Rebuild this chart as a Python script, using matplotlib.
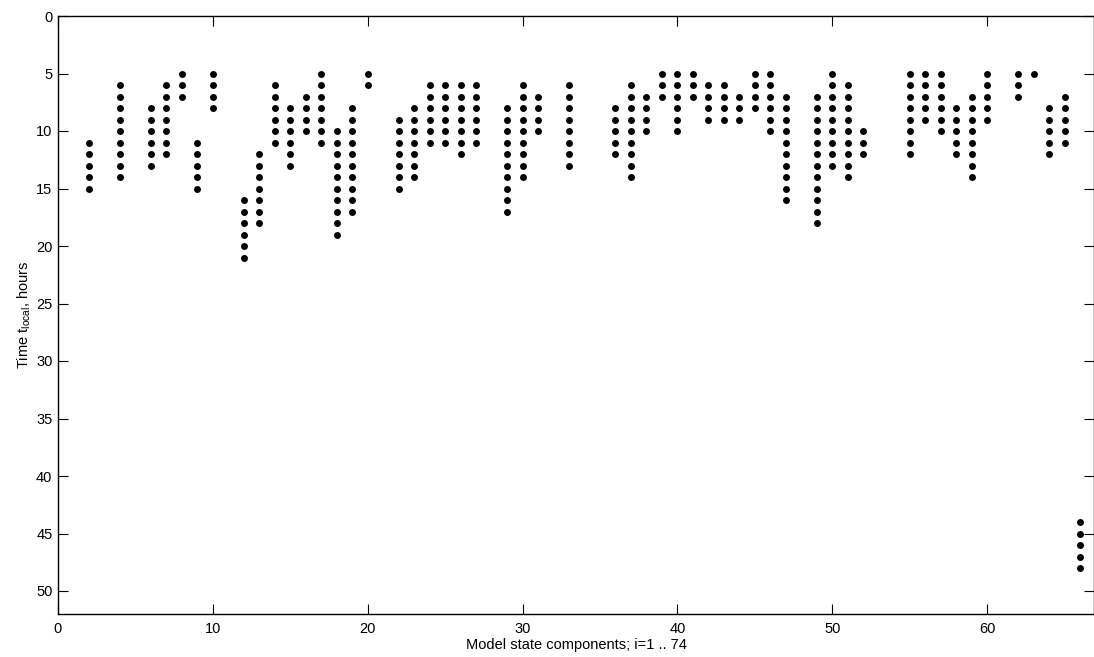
import numpy as np
import matplotlib.pyplot as plt

plt.rcParams['font.family'] = ['Liberation Sans', 'DejaVu Sans']

# state component index and first/last hour at which it is observed
components = [2, 4, 6, 7, 8, 9, 10, 12, 13, 14, 15, 16, 17, 18, 19, 20,
              22, 23, 24, 25, 26, 27, 29, 30, 31, 33, 36, 37, 38, 39, 40,
              41, 42, 43, 44, 45, 46, 47, 49, 50, 51, 52, 55, 56, 57, 58,
              59, 60, 62, 63, 64, 65, 66]
t_first = [11, 6, 8, 6, 5, 11, 5, 16, 12, 6, 8, 7, 5, 10, 8, 5,
           9, 8, 6, 6, 6, 6, 8, 6, 7, 6, 8, 6, 7, 5, 5,
           5, 6, 6, 7, 5, 5, 7, 7, 5, 6, 10, 5, 5, 5, 8,
           7, 5, 5, 5, 8, 7, 44]
t_last = [15, 14, 13, 12, 7, 15, 8, 21, 18, 11, 13, 10, 11, 19, 17, 6,
          15, 14, 11, 11, 12, 11, 17, 14, 10, 13, 12, 14, 10, 7, 10,
          7, 9, 9, 9, 8, 10, 16, 18, 13, 14, 12, 12, 9, 10, 12,
          14, 9, 7, 5, 12, 11, 48]

xs, ys = [], []
for c, a, b in zip(components, t_first, t_last):
    for t in range(a, b + 1):
        xs.append(c)
        ys.append(t)

fig = plt.figure(figsize=(10.94, 6.57), dpi=100)
ax = fig.add_axes([58 / 1094, 43 / 657, 1 - 58 / 1094, 598 / 657])

ax.plot(xs, ys, 'o', color='black', markersize=5, markeredgewidth=0)

ax.set_xlim(0, 66.9)
ax.set_ylim(52, 0)
ax.set_xticks(np.arange(0, 61, 10))
ax.set_yticks(np.arange(0, 51, 5))
ax.tick_params(direction='in', top=True, right=True, length=7, width=0.8,
               labelsize=10.5, colors='black')
ax.tick_params(axis='x', pad=6)
ax.tick_params(axis='y', pad=4)
for s in ax.spines.values():
    s.set_linewidth(1.0)

ax.set_xlabel('Model state components; i=1 .. 74', fontsize=10.5, labelpad=1)
ax.set_ylabel('Time t$_{\\mathregular{local}}$, hours', fontsize=10.5, labelpad=2)

fig.savefig('out.png', dpi=100)
